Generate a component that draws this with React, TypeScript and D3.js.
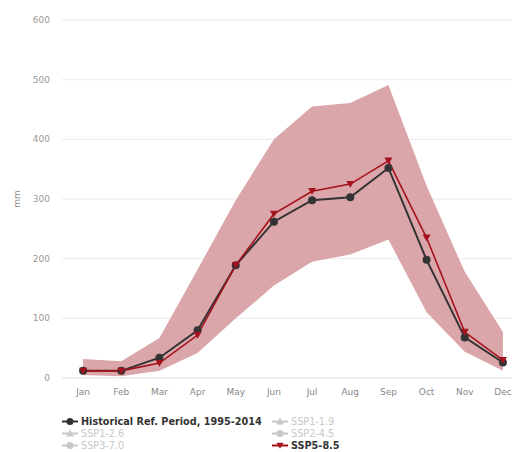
import React from "react";
import * as d3 from "d3";

const months = ["Jan", "Feb", "Mar", "Apr", "May", "Jun", "Jul", "Aug", "Sep", "Oct", "Nov", "Dec"];
const historical = [12, 12, 34, 80, 189, 262, 298, 303, 352, 198, 68, 26];
const ssp585 = [12, 12, 25, 72, 189, 275, 313, 325, 364, 235, 77, 30];
const bandLow = [5, 3, 12, 42, 100, 155, 195, 207, 232, 110, 44, 12];
const bandHigh = [32, 28, 67, 182, 298, 400, 455, 461, 491, 322, 178, 77];
const yTicks = [0, 100, 200, 300, 400, 500, 600];

const W = 512;
const H = 452;

export default function App() {
  const x = d3.scaleBand<string>().domain(months).range([64, 522]).padding(0);
  const cx = (m: string) => (x(m) as number) + x.bandwidth() / 2;
  const y = d3.scaleLinear().domain([0, 600]).range([378, 20]);

  const area = d3
    .area<number>()
    .x((_, i) => cx(months[i]))
    .y0((_, i) => y(bandLow[i]))
    .y1((_, i) => y(bandHigh[i]));
  const line = d3
    .line<number>()
    .x((_, i) => cx(months[i]))
    .y((d) => y(d));

  const tri = (px: number, py: number, s: number) =>
    `M${px - s},${py - s * 0.8}L${px + s},${py - s * 0.8}L${px},${py + s * 0.9}Z`;

  const font = "'DejaVu Sans', Verdana, sans-serif";
  const grey = "#c8c8c8";

  const legendItems = [
    { label: "Historical Ref. Period, 1995-2014", x: 62, y: 425, active: true, kind: "circle", color: "#333" },
    { label: "SSP1-1.9", x: 272, y: 425, active: false, kind: "tri", color: grey },
    { label: "SSP1-2.6", x: 62, y: 437, active: false, kind: "tri", color: grey },
    { label: "SSP2-4.5", x: 272, y: 437, active: false, kind: "circle", color: grey },
    { label: "SSP3-7.0", x: 62, y: 449, active: false, kind: "circle", color: grey },
    { label: "SSP5-8.5", x: 272, y: 449, active: true, kind: "trid", color: "#a3121d" },
  ];

  return (
    <svg width={W} height={H} style={{ position: "absolute", left: 0, top: 0 }} fontFamily={font}>
      <rect x={0} y={0} width={W} height={H} fill="#fff" />
      {yTicks.map((t) => (
        <g key={t}>
          <line x1={62} x2={W} y1={y(t)} y2={y(t)} stroke={t === 0 ? "#dcdcdc" : "#ebebeb"} strokeWidth={1} />
          <text x={50} y={y(t) + 3} textAnchor="end" fontSize={9} fill="#999">
            {t}
          </text>
        </g>
      ))}
      <text transform={`translate(20,${y(300)}) rotate(-90)`} textAnchor="middle" fontSize={9} fill="#888">
        mm
      </text>
      {months.map((m) => (
        <text key={m} x={cx(m)} y={395} textAnchor="middle" fontSize={9} fill="#888">
          {m}
        </text>
      ))}
      <path d={area(bandLow) as string} fill="#dba6a9" />
      <path d={line(historical) as string} fill="none" stroke="#333" strokeWidth={2} />
      <path d={line(ssp585) as string} fill="none" stroke="#a3121d" strokeWidth={1.6} />
      {historical.map((v, i) => (
        <circle key={"h" + i} cx={cx(months[i])} cy={y(v)} r={4} fill="#333" />
      ))}
      {ssp585.map((v, i) => (
        <path key={"s" + i} d={tri(cx(months[i]), y(v), 4)} fill="#a3121d" />
      ))}
      {legendItems.map((it) => (
        <g key={it.label}>
          <line x1={it.x} x2={it.x + 16} y1={it.y - 3.5} y2={it.y - 3.5} stroke={it.color} strokeWidth={2} />
          {it.kind === "circle" ? (
            <circle cx={it.x + 8} cy={it.y - 3.5} r={3.5} fill={it.color} />
          ) : it.kind === "tri" ? (
            <path d={`M${it.x + 4},${it.y - 0.5}L${it.x + 12},${it.y - 0.5}L${it.x + 8},${it.y - 7.5}Z`} fill={it.color} />
          ) : (
            <path d={tri(it.x + 8, it.y - 3.5, 3.5)} fill={it.color} />
          )}
          <text
            x={it.x + 19}
            y={it.y}
            fontSize={9.7}
            fontWeight={it.active ? "bold" : "normal"}
            fill={it.active ? "#333" : grey}
          >
            {it.label}
          </text>
        </g>
      ))}
    </svg>
  );
}
